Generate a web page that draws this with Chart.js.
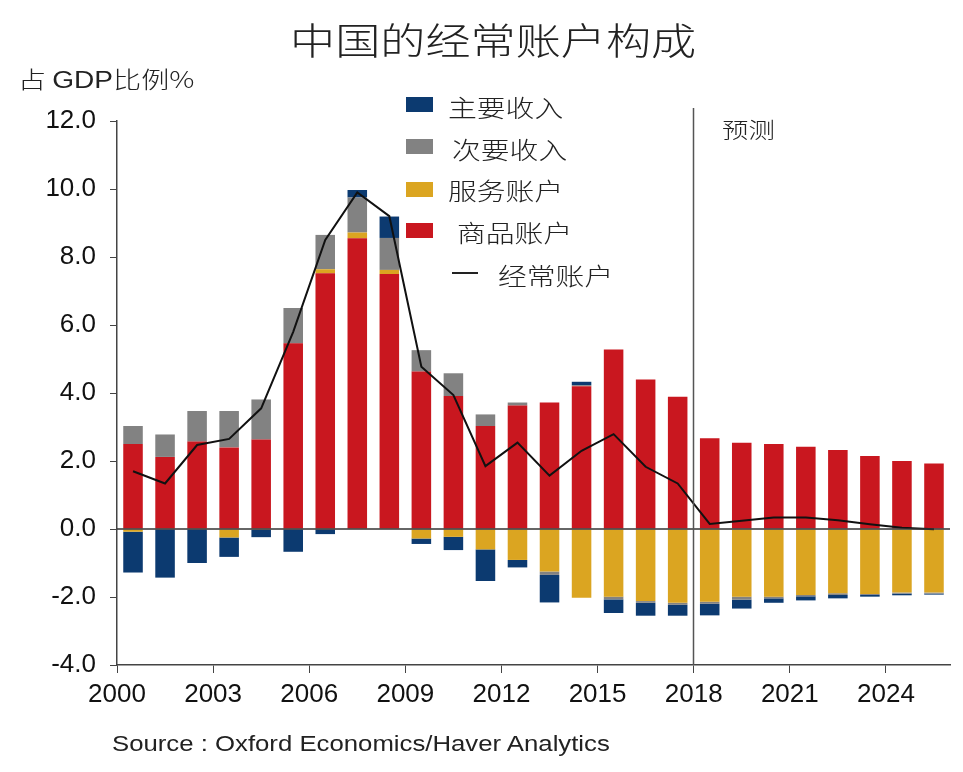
<!DOCTYPE html>
<html>
<head>
<meta charset="utf-8">
<script src="https://cdn.jsdelivr.net/npm/chart.js@4.4.1/dist/chart.umd.min.js"></script>
<style>
  body { margin: 0; background: #fff; }
  #wrap { position: relative; width: 963px; height: 772px; }
  .txt { position: absolute; white-space: nowrap; color: #222; font-family: "Noto Sans CJK SC", sans-serif;
         font-weight: 300; transform-origin: 0 0; transform: scaleX(1.2); }
  .box { position: absolute; width: 27px; height: 15px; }
</style>
</head>
<body>
<div id="wrap">
  <canvas id="chart"></canvas>
  <div class="txt" style="left:290px;top:12px;font-size:37px;transform:scaleX(1.22);">中国的经常账户构成</div>
  <div class="txt" style="left:18px;top:61px;font-size:23px;transform:scaleX(1.22);">占 <span style="font-family:'Liberation Sans';">GDP</span>比例%</div>
  <div class="txt" style="left:722px;top:112px;font-size:22px;">预测</div>

  <div class="box" style="left:406px;top:97px;background:#0c3a70;"></div>
  <div class="txt" style="left:448px;top:89px;font-size:24px;">主要收入</div>
  <div class="box" style="left:406px;top:139px;background:#828282;"></div>
  <div class="txt" style="left:452px;top:131px;font-size:24px;">次要收入</div>
  <div class="box" style="left:406px;top:182px;background:#dba521;"></div>
  <div class="txt" style="left:448px;top:172px;font-size:24px;">服务账户</div>
  <div class="box" style="left:406px;top:223px;background:#c9171f;"></div>
  <div class="txt" style="left:457px;top:214px;font-size:24px;">商品账户</div>
  <div style="position:absolute;left:452px;top:272px;width:26px;height:1.5px;background:#222;"></div>
  <div class="txt" style="left:498px;top:257px;font-size:24px;">经常账户</div>

  <div class="txt" style="left:112px;top:731px;font-size:22px;font-family:'Liberation Sans';font-weight:400;transform:scaleX(1.17);">Source : Oxford Economics/Haver Analytics</div>
</div>
<script>
const years = [2000, 2001, 2002, 2003, 2004, 2005, 2006, 2007, 2008, 2009, 2010, 2011, 2012,
               2013, 2014, 2015, 2016, 2017, 2018, 2019, 2020, 2021, 2022, 2023, 2024, 2025];
const goods = [2.5, 2.12, 2.57, 2.4, 2.63, 5.46, 7.52, 8.55, 7.5, 4.63, 3.91, 3.03, 3.63,
               3.72, 4.2, 5.28, 4.4, 3.89, 2.67, 2.54, 2.5, 2.42, 2.32, 2.15, 2.0, 1.93];
const services = [-0.08, 0, 0, -0.25, -0.02, 0, 0.12, 0.17, 0.12, -0.28, -0.23, -0.6, -0.91,
                  -1.25, -2.02, -1.99, -2.12, -2.17, -2.14, -1.99, -1.99, -1.94, -1.89, -1.91, -1.87, -1.87];
const secondary = [0.53, 0.66, 0.9, 1.07, 1.18, 1.04, 1.01, 1.03, 0.94, 0.63, 0.67, 0.34, 0.09,
                   -0.1, 0.03, -0.08, -0.05, -0.06, -0.06, -0.09, -0.05, -0.04, -0.05, -0.03, -0.03, -0.03];
const primary = [-1.2, -1.43, -1.0, -0.57, -0.22, -0.67, -0.15, 0.22, 0.63, -0.16, -0.39, -0.93, -0.22,
                 -0.81, 0.1, -0.4, -0.38, -0.32, -0.34, -0.26, -0.13, -0.12, -0.1, -0.05, -0.05, -0.03];
const current = [1.7, 1.34, 2.47, 2.65, 3.55, 5.8, 8.5, 9.9, 9.2, 4.77, 3.94, 1.85, 2.54,
                 1.57, 2.3, 2.79, 1.83, 1.34, 0.15, 0.24, 0.34, 0.34, 0.26, 0.14, 0.04, -0.01];
const xTicks = [2000, 2003, 2006, 2009, 2012, 2015, 2018, 2021, 2024];
const yTicks = [-4, -2, 0, 2, 4, 6, 8, 10, 12];
const forecastStart = 2018;

// bars sit in the middle of each year, ticks mark the year's start
const pts = arr => years.map((yr, i) => ({ x: yr + 0.5, y: arr[i] }));

const barSet = (label, arr, color) => ({
  type: 'bar', label, data: pts(arr), backgroundColor: color,
  stack: 'ca', categoryPercentage: 1, barPercentage: 0.61, borderWidth: 0
});

const overlay = {
  id: 'overlay',
  afterDatasetsDraw(chart) {
    const { ctx, chartArea, scales } = chart;
    const y0 = scales.y.getPixelForValue(0);
    ctx.save();
    ctx.strokeStyle = '#333';
    ctx.lineWidth = 1.5;
    ctx.beginPath();
    ctx.moveTo(chartArea.left, y0);
    ctx.lineTo(chartArea.right, y0);
    ctx.stroke();
    const xf = Math.round(scales.x.getPixelForValue(forecastStart)) - 0.5;
    ctx.strokeStyle = '#555';
    ctx.beginPath();
    ctx.moveTo(xf, 108);
    ctx.lineTo(xf, chartArea.bottom);
    ctx.stroke();
    ctx.restore();
  }
};

new Chart(document.getElementById('chart'), {
  type: 'bar',
  data: {
    datasets: [
      { type: 'line', label: '经常账户', data: pts(current), borderColor: '#111', borderWidth: 2,
        pointRadius: 0, tension: 0, stack: 'line', order: -1 },
      barSet('商品账户', goods, '#c9171f'),
      barSet('服务账户', services, '#dba521'),
      barSet('次要收入', secondary, '#828282'),
      barSet('主要收入', primary, '#0c3a70')
    ]
  },
  options: {
    responsive: true,
    maintainAspectRatio: false,
    animation: false,
    layout: { padding: { top: 121, right: 13, left: 0, bottom: 0 } },
    plugins: { legend: { display: false }, tooltip: { enabled: false } },
    scales: {
      x: {
        type: 'linear', min: 2000, max: 2026, offset: false,
        afterFit: s => { s.height = 107; },
        afterBuildTicks: s => { s.ticks = xTicks.map(v => ({ value: v })); },
        border: { display: true, color: '#444', width: 1.5 },
        grid: { drawOnChartArea: false, drawTicks: true, tickLength: 8, tickColor: '#444', offset: false },
        ticks: {
          autoSkip: false, maxRotation: 0, padding: 6,
          color: '#111', font: { family: 'Liberation Sans', size: 26 },
          callback: v => String(v)
        }
      },
      y: {
        min: -4, max: 12, stacked: true,
        afterFit: s => { s.width = 117; },
        afterBuildTicks: s => { s.ticks = yTicks.map(v => ({ value: v })); },
        border: { display: true, color: '#444', width: 1.5 },
        grid: { drawOnChartArea: false, drawTicks: true, tickLength: 7, tickColor: '#444' },
        ticks: {
          padding: 14, color: '#111', font: { family: 'Liberation Sans', size: 26 },
          callback: v => v.toFixed(1)
        }
      }
    }
  },
  plugins: [overlay]
});
</script>
</body>
</html>
